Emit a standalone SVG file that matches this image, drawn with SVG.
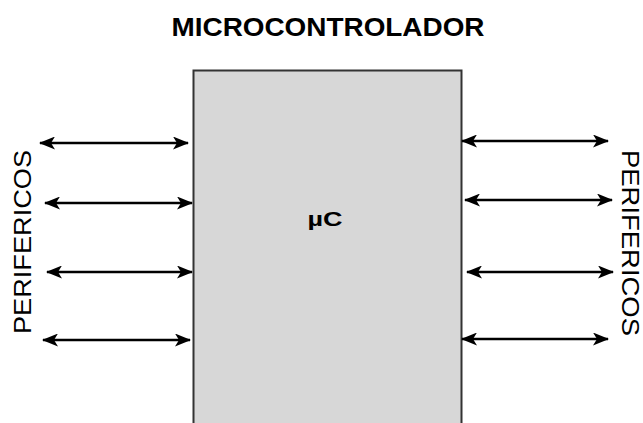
<svg xmlns="http://www.w3.org/2000/svg" width="643" height="423" viewBox="0 0 643 423">
<style>
.t{font-family:"Liberation Sans",Arial,sans-serif;fill:#000}
.c{stroke:#000;stroke-width:2.4;fill:none;marker-start:url(#a);marker-end:url(#a)}
</style>
<defs>
<marker id="a" viewBox="0 0 16 13" refX="15" refY="6.5" markerWidth="16" markerHeight="13" markerUnits="userSpaceOnUse" orient="auto-start-reverse">
<path d="M0,0 L16,6.5 L0,13 L4,6.5 Z" fill="#000"/>
</marker>
</defs>
<rect width="643" height="423" fill="#fff"/>
<g id="title"><text class="t" x="328" y="36" font-size="25" font-weight="bold" text-anchor="middle" textLength="313" lengthAdjust="spacingAndGlyphs">MICROCONTROLADOR</text></g>
<g id="uc">
<rect x="193.5" y="70.5" width="268" height="360" fill="#d7d7d7" stroke="#333" stroke-width="2"/>
<text class="t" x="325" y="226" font-size="21" font-weight="bold" text-anchor="middle" textLength="35" lengthAdjust="spacingAndGlyphs">µC</text>
</g>
<g id="perif-left"><text class="t" transform="translate(31,242) rotate(-90)" x="0" y="0" font-size="23" text-anchor="middle" textLength="184" lengthAdjust="spacingAndGlyphs">PERIFERICOS</text></g>
<g id="perif-right"><text class="t" transform="translate(622,243) rotate(90)" x="0" y="0" font-size="23" text-anchor="middle" textLength="186" lengthAdjust="spacingAndGlyphs">PERIFERICOS</text></g>
<g id="connectors">
<line class="c" x1="40" y1="143" x2="188" y2="143"/>
<line class="c" x1="45" y1="203" x2="192" y2="203"/>
<line class="c" x1="47" y1="272" x2="192" y2="272"/>
<line class="c" x1="43" y1="340" x2="190" y2="340"/>
<line class="c" x1="462" y1="141" x2="608" y2="141"/>
<line class="c" x1="465" y1="200" x2="612" y2="200"/>
<line class="c" x1="467" y1="272" x2="613" y2="272"/>
<line class="c" x1="462" y1="339" x2="608" y2="339"/>
</g>
</svg>
